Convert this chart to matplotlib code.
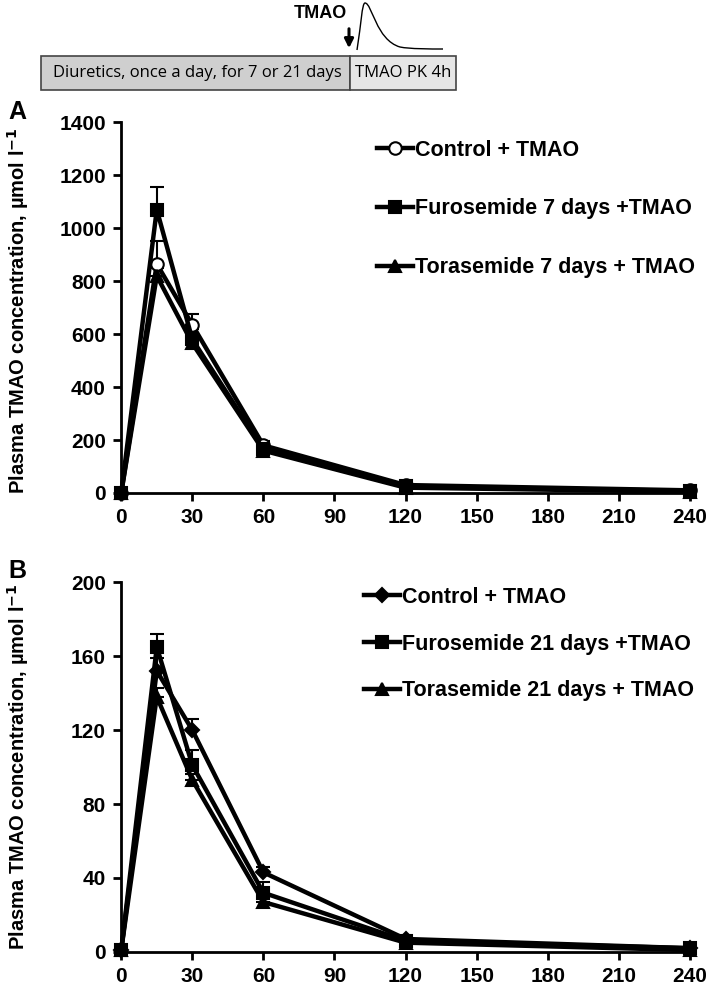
import matplotlib
matplotlib.use('Agg')
import matplotlib.pyplot as plt
from matplotlib.path import Path
from matplotlib.patches import PathPatch, Rectangle, FancyArrowPatch

plt.rcParams['font.family'] = ['Liberation Sans', 'DejaVu Sans']
plt.rcParams['font.weight'] = 'bold'

# time points, min
t = [0, 15, 30, 60, 120, 240]
xticks = [0, 30, 60, 90, 120, 150, 180, 210, 240]

# panel A: 7 days
a_ctrl = [0, 865, 635, 180, 30, 10]
a_ctrl_err = [0, 85, 40, 15, 5, 2]
a_furo = [0, 1070, 580, 165, 25, 8]
a_furo_err = [0, 85, 40, 12, 5, 2]
a_tora = [0, 820, 565, 160, 20, 5]
a_tora_err = [0, 30, 30, 10, 4, 2]
a_labels = ['Control + TMAO', 'Furosemide 7 days +TMAO', 'Torasemide 7 days + TMAO']

# panel B: 21 days
b_ctrl = [1, 152, 120, 43, 7, 2]
b_ctrl_err = [0, 7, 6, 3, 1, 0.5]
b_furo = [1, 165, 101, 32, 6, 2]
b_furo_err = [0, 7, 8, 6, 1, 0.5]
b_tora = [1, 138, 93, 27, 5, 1]
b_tora_err = [0, 5, 3, 2, 1, 0.5]
b_labels = ['Control + TMAO', 'Furosemide 21 days +TMAO', 'Torasemide 21 days + TMAO']

fig = plt.figure(figsize=(7.09, 10.02), dpi=100)


def panel(ax, series, errs, markers, labels, ymax, ystep, anchor, spacing):
    for y, e, m, lab in zip(series, errs, markers, labels):
        mfc = 'white' if m == 'o' else 'black'
        ax.errorbar(t, y, yerr=[[0] * len(e), e], color='black', lw=3.2,
                    marker=m, ms=9 if m != 'D' else 7, mfc=mfc, mec='black', mew=1.5,
                    capsize=5, elinewidth=1.5, capthick=1.5, clip_on=False,
                    label=lab, zorder=3)
    ax.set_xlim(0, 240)
    ax.set_ylim(0, ymax)
    ax.set_xticks(xticks)
    ax.set_yticks(range(0, ymax + 1, ystep))
    for s in ['top', 'right']:
        ax.spines[s].set_visible(False)
    for s in ['left', 'bottom']:
        ax.spines[s].set_linewidth(2)
    ax.tick_params(direction='out', length=6, width=2, labelsize=15, pad=5)
    for lab in ax.get_xticklabels() + ax.get_yticklabels():
        lab.set_fontweight('bold')
    handles, labs = ax.get_legend_handles_labels()
    handles = [h[0] for h in handles]
    ax.legend(handles, labs, loc='upper left', bbox_to_anchor=anchor,
              frameon=False, handlelength=1.7, handletextpad=0.1,
              labelspacing=spacing, prop={'size': 15.5, 'weight': 'bold'})


axA = fig.add_axes([0.171, 0.508, 0.802, 0.370])
panel(axA, [a_ctrl, a_furo, a_tora], [a_ctrl_err, a_furo_err, a_tora_err],
      ['o', 's', '^'], a_labels, 1400, 200, (0.415, 1.005), 1.75)

axB = fig.add_axes([0.171, 0.050, 0.802, 0.369])
panel(axB, [b_ctrl, b_furo, b_tora], [b_ctrl_err, b_furo_err, b_tora_err],
      ['D', 's', '^'], b_labels, 200, 40, (0.392, 1.04), 1.2)

ylab = 'Plasma TMAO concentration, µmol l$^{\\mathbf{-1}}$'
fig.text(0.026, 0.69, ylab, rotation=90, ha='center', va='center', fontsize=14.5, fontweight='bold')
fig.text(0.026, 0.235, ylab, rotation=90, ha='center', va='center', fontsize=14.5, fontweight='bold')
fig.text(0.012, 0.888, 'A', fontsize=18, fontweight='bold', va='center')
fig.text(0.012, 0.430, 'B', fontsize=18, fontweight='bold', va='center')

# schematic at top (figure pixel coords)
W, H = 709.0, 1002.0
def fx(px):
    return px / W
def fy(py):
    return 1 - py / H

fig.patches.append(Rectangle((fx(41), fy(90)), fx(350) - fx(41), fy(56) - fy(90),
                             transform=fig.transFigure, facecolor='#cfcfcf',
                             edgecolor='#444444', lw=1.2))
fig.patches.append(Rectangle((fx(350), fy(90)), fx(456) - fx(350), fy(56) - fy(90),
                             transform=fig.transFigure, facecolor='#e6e6e6',
                             edgecolor='#444444', lw=1.2))
fig.text(fx(197), fy(73), 'Diuretics, once a day, for 7 or 21 days', ha='center', va='center',
         fontsize=12, fontweight='normal', family=['Open Sans', 'DejaVu Sans'])
fig.text(fx(403), fy(73), 'TMAO PK 4h', ha='center', va='center',
         fontsize=12, fontweight='normal', family=['Open Sans', 'DejaVu Sans'])
fig.text(fx(347), fy(13), 'TMAO', ha='right', va='center', fontsize=13, fontweight='bold')
fig.patches.append(FancyArrowPatch((fx(349), fy(26)), (fx(349), fy(51)),
                                   transform=fig.transFigure, arrowstyle='-|>',
                                   mutation_scale=13, color='black', lw=2.2))
verts = [(fx(357), fy(50)), (fx(361), fy(25)), (fx(362), fy(3)), (fx(365), fy(3)),
         (fx(372), fy(3)), (fx(376), fy(40)), (fx(400), fy(47)),
         (fx(410), fy(49)), (fx(430), fy(49)), (fx(443), fy(49))]
codes = [Path.MOVETO, Path.CURVE4, Path.CURVE4, Path.CURVE4,
         Path.CURVE4, Path.CURVE4, Path.CURVE4,
         Path.CURVE4, Path.CURVE4, Path.CURVE4]
fig.patches.append(PathPatch(Path(verts, codes), transform=fig.transFigure,
                             facecolor='none', edgecolor='black', lw=1))

fig.savefig('out.png', dpi=100)
